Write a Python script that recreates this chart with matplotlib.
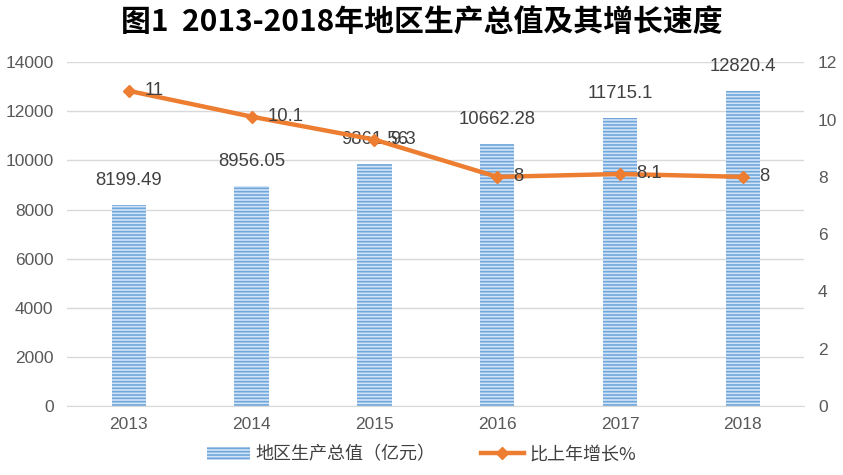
import matplotlib.pyplot as plt
import numpy as np

plt.rcParams['font.family'] = ['Noto Sans CJK SC', 'DejaVu Sans']
plt.rcParams['hatch.linewidth'] = 1.2

years = ['2013', '2014', '2015', '2016', '2017', '2018']
gdp = [8199.49, 8956.05, 9861.56, 10662.28, 11715.1, 12820.4]
gdp_labels = ['8199.49', '8956.05', '9861.56', '10662.28', '11715.1', '12820.4']
growth = [11, 10.1, 9.3, 8, 8.1, 8]
growth_labels = ['11', '10.1', '9.3', '8', '8.1', '8']

num_font = ['Liberation Sans', 'DejaVu Sans']

fig = plt.figure(figsize=(8.43, 4.75), dpi=100)
ax = fig.add_axes([0.080, 0.145, 0.874, 0.724])
ax2 = ax.twinx()

x = np.arange(len(years))

# bars: light blue with horizontal blue stripes
ax.bar(x, gdp, width=0.28, color='#d2e4f6', edgecolor='#6fa6dc',
       hatch='-----', linewidth=0, zorder=2, label='地区生产总值（亿元）')
for xi, v, s in zip(x, gdp, gdp_labels):
    ax.text(xi, v + 650, s, ha='center', va='bottom', fontsize=13.3,
            color='#404040', family=num_font)

ax.set_ylim(0, 14000)
ax.set_yticks(range(0, 14001, 2000))
ax.set_xlim(-0.5, len(years) - 0.5)
ax.set_xticks(x)
ax.set_xticklabels(years)
ax.grid(axis='y', color='#d9d9d9', linewidth=1, zorder=0)
ax.set_axisbelow(True)

# growth line
ax2.plot(x, growth, color='#ed7d31', linewidth=3.2, marker='D', markersize=6,
         zorder=3, label='比上年增长%')
for xi, v, s in zip(x, growth, growth_labels):
    ax2.text(xi + 0.13, v, s, ha='left', va='center', fontsize=13.3,
             color='#404040', family=num_font)
ax2.set_ylim(0, 12)
ax2.set_yticks(range(0, 13, 2))

for a in (ax, ax2):
    for sp in a.spines.values():
        sp.set_visible(False)
    a.tick_params(length=0, labelsize=12.5, colors='#595959')
    for lab in a.get_xticklabels() + a.get_yticklabels():
        lab.set_family(num_font)
ax.spines['bottom'].set_visible(True)
ax.spines['bottom'].set_color('#d9d9d9')
ax.tick_params(axis='y', pad=10)
ax2.tick_params(axis='y', pad=10)
ax.tick_params(axis='x', pad=8)

fig.suptitle('图1  2013-2018年地区生产总值及其增长速度', fontsize=21.5,
             fontweight='bold', y=0.985)

h1, l1 = ax.get_legend_handles_labels()
h2, l2 = ax2.get_legend_handles_labels()
fig.legend(h1 + h2, l1 + l2, loc='lower center', bbox_to_anchor=(0.5, -0.01),
           ncol=2, frameon=False, fontsize=13, handlelength=2.4,
           handletextpad=0.3, columnspacing=2.5, labelcolor='#404040')

fig.savefig('out.png', dpi=100)
